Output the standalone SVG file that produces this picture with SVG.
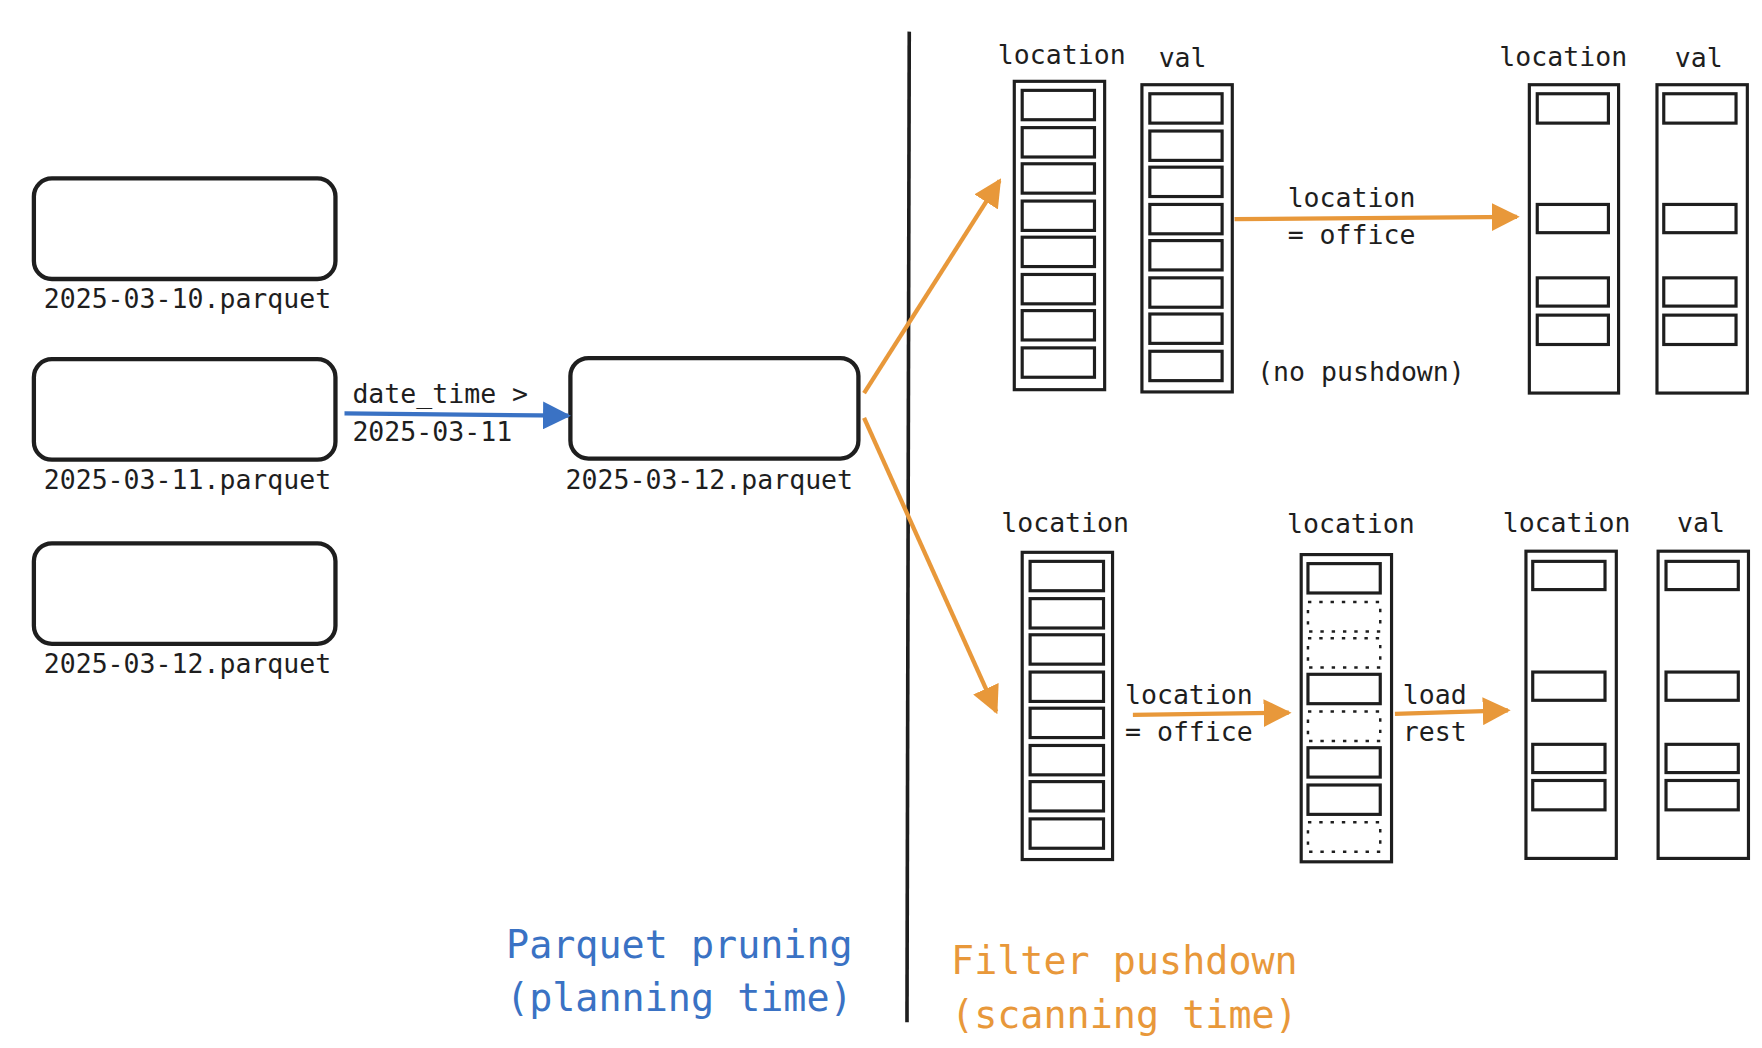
<svg xmlns="http://www.w3.org/2000/svg" width="1762" height="1048" viewBox="0 0 1762 1048">
<style>
.box{fill:#fff;stroke:#1e1e1e;stroke-width:3.8}
.col{fill:#fff;stroke:#1e1e1e;stroke-width:2.8}
.cell{fill:#fff;stroke:#1e1e1e;stroke-width:2.8}
.dot{fill:none;stroke:#1e1e1e;stroke-width:2.2;stroke-dasharray:3 7}
text{font-family:"DejaVu Sans Mono","Liberation Mono",monospace;fill:#1e1e1e}
.lbl{font-size:23.5px}
.mid{text-anchor:middle}
.big{font-size:34px}
.or{stroke:#e8983a;stroke-width:3.8;fill:none}
.bl{stroke:#3a72c4;stroke-width:3.8;fill:none}
</style>
<defs>
<marker id="ao" viewBox="0 0 10 10" refX="9" refY="5" markerWidth="6.5" markerHeight="6.5" orient="auto" markerUnits="strokeWidth"><path d="M0,0L10,5L0,10z" fill="#e8983a"/></marker>
<marker id="ab" viewBox="0 0 10 10" refX="9" refY="5" markerWidth="6.5" markerHeight="6.5" orient="auto" markerUnits="strokeWidth"><path d="M0,0L10,5L0,10z" fill="#3a72c4"/></marker>
</defs>
<rect width="1762" height="1048" fill="#fff"/>
<g transform="scale(1.1295)">
<g id="file10"><rect class="box" x="30" y="158" width="267" height="89" rx="16"/><text class="lbl mid" x="166" y="273">2025-03-10.parquet</text></g>
<g id="file11"><rect class="box" x="30" y="318" width="267" height="89" rx="16"/><text class="lbl mid" x="166" y="433">2025-03-11.parquet</text></g>
<g id="file12"><rect class="box" x="30" y="481" width="267" height="89" rx="16"/><text class="lbl mid" x="166" y="596">2025-03-12.parquet</text></g>
<g id="pruned"><rect class="box" x="505" y="317" width="255" height="89" rx="16"/><text class="lbl mid" x="628" y="433">2025-03-12.parquet</text></g>
<g id="divider"><line x1="805" y1="28" x2="803" y2="905" stroke="#1e1e1e" stroke-width="3.2"/></g>
<g id="captions">
<text class="big" x="448" y="848" style="fill:#3a72c4">Parquet pruning</text>
<text class="big" x="448" y="895" style="fill:#3a72c4">(planning time)</text>
<text class="big" x="842" y="862" style="fill:#e8983a">Filter pushdown</text>
<text class="big" x="842" y="910" style="fill:#e8983a">(scanning time)</text>
</g>
<g id="connectors">
<line class="bl" x1="305" y1="366" x2="503" y2="368" marker-end="url(#ab)"/>
<line class="or" x1="765" y1="348" x2="885" y2="160" marker-end="url(#ao)"/>
<line class="or" x1="765" y1="370" x2="882" y2="630" marker-end="url(#ao)"/>
<line class="or" x1="1093" y1="194" x2="1343" y2="192" marker-end="url(#ao)"/>
<line class="or" x1="1003" y1="633" x2="1141" y2="631" marker-end="url(#ao)"/>
<line class="or" x1="1235" y1="632" x2="1335" y2="629" marker-end="url(#ao)"/>
<text class="lbl" x="312" y="357">date_time &gt;</text>
<text class="lbl" x="312" y="390">2025-03-11</text>
<text class="lbl" x="1140" y="183">location</text>
<text class="lbl" x="1140" y="216">= office</text>
<text class="lbl" x="996" y="623">location</text>
<text class="lbl" x="996" y="656">= office</text>
<text class="lbl" x="1242" y="623">load</text>
<text class="lbl" x="1242" y="656">rest</text>
</g>
<g id="nopush-loc">
<text class="lbl mid" x="940" y="57">location</text>
<rect class="col" x="898" y="72" width="80" height="273"/>
<rect class="cell" x="905" y="80" width="64" height="26"/><rect class="cell" x="905" y="113" width="64" height="26"/><rect class="cell" x="905" y="145" width="64" height="26"/><rect class="cell" x="905" y="178" width="64" height="26"/><rect class="cell" x="905" y="210" width="64" height="26"/><rect class="cell" x="905" y="243" width="64" height="26"/><rect class="cell" x="905" y="275" width="64" height="26"/><rect class="cell" x="905" y="308" width="64" height="26"/>
</g>
<g id="nopush-val">
<text class="lbl mid" x="1047" y="59">val</text>
<rect class="col" x="1011" y="75" width="80" height="272"/>
<rect class="cell" x="1018" y="83" width="64" height="26"/><rect class="cell" x="1018" y="116" width="64" height="26"/><rect class="cell" x="1018" y="148" width="64" height="26"/><rect class="cell" x="1018" y="181" width="64" height="26"/><rect class="cell" x="1018" y="213" width="64" height="26"/><rect class="cell" x="1018" y="246" width="64" height="26"/><rect class="cell" x="1018" y="278" width="64" height="26"/><rect class="cell" x="1018" y="311" width="64" height="26"/>
</g>
<g id="nopush-note"><text class="lbl" x="1113" y="337">(no pushdown)</text></g>
<g id="nopush-out-loc">
<text class="lbl mid" x="1384" y="58">location</text>
<rect class="col" x="1354" y="75" width="79" height="273"/>
<rect class="cell" x="1361" y="83" width="63" height="26"/><rect class="cell" x="1361" y="181" width="63" height="25"/><rect class="cell" x="1361" y="246" width="63" height="25"/><rect class="cell" x="1361" y="279" width="63" height="26"/>
</g>
<g id="nopush-out-val">
<text class="lbl mid" x="1504" y="59">val</text>
<rect class="col" x="1467" y="75" width="80" height="273"/>
<rect class="cell" x="1473" y="83" width="64" height="26"/><rect class="cell" x="1473" y="181" width="64" height="25"/><rect class="cell" x="1473" y="246" width="64" height="25"/><rect class="cell" x="1473" y="279" width="64" height="26"/>
</g>
<g id="push-loc">
<text class="lbl mid" x="943" y="471">location</text>
<rect class="col" x="905" y="489" width="80" height="272"/>
<rect class="cell" x="912" y="497" width="65" height="26"/><rect class="cell" x="912" y="530" width="65" height="26"/><rect class="cell" x="912" y="562" width="65" height="26"/><rect class="cell" x="912" y="595" width="65" height="26"/><rect class="cell" x="912" y="627" width="65" height="26"/><rect class="cell" x="912" y="660" width="65" height="26"/><rect class="cell" x="912" y="692" width="65" height="26"/><rect class="cell" x="912" y="725" width="65" height="26"/>
</g>
<g id="push-filtered">
<text class="lbl mid" x="1196" y="472">location</text>
<rect class="col" x="1152" y="491" width="80" height="272"/>
<rect class="cell" x="1158" y="499" width="64" height="26"/>
<rect class="dot" x="1158" y="533" width="64" height="26"/>
<rect class="dot" x="1158" y="565" width="64" height="26"/>
<rect class="cell" x="1158" y="597" width="64" height="26"/>
<rect class="dot" x="1158" y="630" width="64" height="26"/>
<rect class="cell" x="1158" y="662" width="64" height="26"/>
<rect class="cell" x="1158" y="695" width="64" height="26"/>
<rect class="dot" x="1158" y="728" width="64" height="26"/>
</g>
<g id="push-out-loc">
<text class="lbl mid" x="1387" y="471">location</text>
<rect class="col" x="1351" y="488" width="80" height="272"/>
<rect class="cell" x="1357" y="497" width="64" height="25"/><rect class="cell" x="1357" y="595" width="64" height="25"/><rect class="cell" x="1357" y="659" width="64" height="25"/><rect class="cell" x="1357" y="691" width="64" height="26"/>
</g>
<g id="push-out-val">
<text class="lbl mid" x="1506" y="471">val</text>
<rect class="col" x="1468" y="488" width="80" height="272"/>
<rect class="cell" x="1475" y="497" width="64" height="25"/><rect class="cell" x="1475" y="595" width="64" height="25"/><rect class="cell" x="1475" y="659" width="64" height="25"/><rect class="cell" x="1475" y="691" width="64" height="26"/>
</g>
</g>
</svg>
